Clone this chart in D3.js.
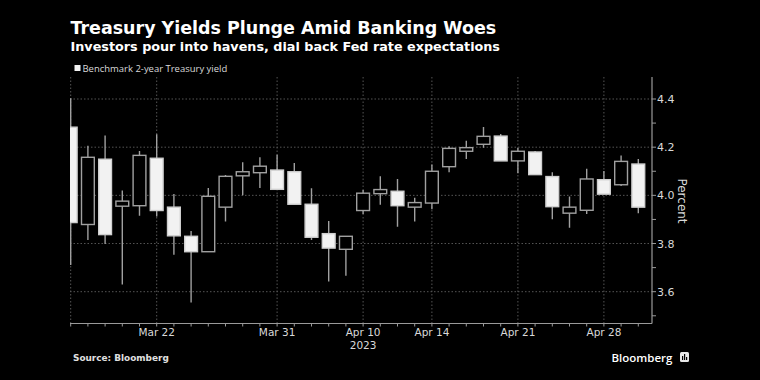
<!DOCTYPE html>
<html>
<head>
<meta charset="utf-8">
<script src="https://cdn.jsdelivr.net/npm/d3@7/dist/d3.min.js"></script>
<style>
  html, body { margin: 0; padding: 0; background: #000; }
  svg { display: block; }
</style>
</head>
<body>
<svg id="chart" width="760" height="380"></svg>
<script>
// ---- Data ----
const dates = ["Mar 15","Mar 16","Mar 17","Mar 20","Mar 21","Mar 22","Mar 23","Mar 24","Mar 27","Mar 28",
  "Mar 29","Mar 30","Mar 31","Apr 3","Apr 4","Apr 5","Apr 6","Apr 10","Apr 11","Apr 12",
  "Apr 13","Apr 14","Apr 17","Apr 18","Apr 19","Apr 20","Apr 21","Apr 24","Apr 25","Apr 26",
  "Apr 27","Apr 28","May 1","May 2"];
const open  = [4.283,3.879,4.150,3.955,3.957,4.154,3.951,3.830,3.766,3.951,
  4.081,4.094,4.105,4.098,3.963,3.841,3.776,3.937,4.007,4.017,
  3.951,3.968,4.119,4.183,4.212,4.246,4.143,4.180,4.078,3.926,
  3.938,4.065,4.044,4.130];
const high  = [4.403,4.206,4.248,4.020,4.184,4.254,4.006,3.852,4.031,4.085,
  4.137,4.158,4.169,4.134,4.029,3.894,3.830,4.022,4.079,4.068,
  3.990,4.128,4.204,4.227,4.284,4.255,4.197,4.184,4.096,3.995,
  4.110,4.101,4.165,4.151];
const low   = [3.711,3.815,3.798,3.630,3.915,3.912,3.753,3.555,3.766,3.891,
  4.000,4.031,4.025,3.963,3.815,3.642,3.666,3.923,3.961,3.870,
  3.891,3.942,4.096,4.151,4.198,4.143,4.092,4.086,3.901,3.866,
  3.923,4.005,4.039,3.926];
const close = [3.887,4.158,3.837,3.976,4.166,3.937,3.832,3.766,3.996,4.079,
  4.098,4.121,4.025,3.963,3.826,3.781,3.830,4.009,4.024,3.957,
  3.970,4.100,4.195,4.198,4.245,4.143,4.183,4.086,3.953,3.951,
  4.068,4.005,4.141,3.951];
const yTicks = [3.6, 3.8, 4.0, 4.2, 4.4];
const yMinorTicks = [3.5, 3.7, 3.9, 4.1, 4.3];
const xTickLabels = ["Mar 22","Mar 31","Apr 10","Apr 14","Apr 21","Apr 28"];
const yearLabel = {date: "Apr 10", text: "2023"};

// ---- Layout ----
const W = 760, H = 380;
const plot = {left: 70, right: 652, top: 77, bottom: 323.5};
const svg = d3.select("#chart");
svg.append("rect").attr("width", W).attr("height", H).attr("fill", "#000");

const idx = dates.map((d, i) => i);
const x = d3.scaleLinear().domain([0, dates.length - 1]).range([70.7, 638.3]);
const y = d3.scaleLinear().domain([3.6, 4.4]).range([291.7, 99]);
const bodyW = 12.8;

const gridColor = "#555";
const axisColor = "#9a9a9a";
const textColor = "#d9d9d9";

svg.append("clipPath").attr("id", "plotclip").append("rect")
  .attr("x", plot.left).attr("y", plot.top)
  .attr("width", plot.right - plot.left).attr("height", plot.bottom - plot.top);

// Horizontal gridlines
const grid = svg.append("g");
grid.selectAll("line.h").data(yTicks).join("line")
  .attr("x1", plot.left).attr("x2", plot.right)
  .attr("y1", d => y(d)).attr("y2", d => y(d))
  .attr("stroke", gridColor).attr("stroke-width", 1).attr("stroke-dasharray", "1.5,2");

// Vertical gridlines
const vGridIdx = [0].concat(xTickLabels.map(l => dates.indexOf(l)));
grid.selectAll("line.v").data(vGridIdx).join("line")
  .attr("x1", d => x(d)).attr("x2", d => x(d))
  .attr("y1", plot.top).attr("y2", plot.bottom)
  .attr("stroke", gridColor).attr("stroke-width", 1).attr("stroke-dasharray", "1.5,2");

// Candles
const cg = svg.append("g").attr("clip-path", "url(#plotclip)");
const candles = cg.selectAll("g.c").data(idx).join("g");
candles.append("line")
  .attr("x1", i => x(i)).attr("x2", i => x(i))
  .attr("y1", i => y(high[i])).attr("y2", i => y(low[i]))
  .attr("stroke", "#a0a0a0").attr("stroke-width", 1.4);
candles.append("rect")
  .attr("x", i => x(i) - bodyW / 2)
  .attr("width", bodyW)
  .attr("y", i => y(Math.max(open[i], close[i])))
  .attr("height", i => Math.max(1.5, Math.abs(y(open[i]) - y(close[i]))))
  .attr("fill", i => close[i] < open[i] ? "#f2f2f2" : "#000")
  .attr("stroke", i => close[i] < open[i] ? "#cfcfcf" : "#a0a0a0")
  .attr("stroke-width", 1.4);

// X axis
const xAxisG = svg.append("g").attr("transform", `translate(0,${plot.bottom})`);
xAxisG.append("line").attr("x1", plot.left).attr("x2", plot.right)
  .attr("y1", 0).attr("y2", 0).attr("stroke", axisColor).attr("stroke-width", 1.2);
xAxisG.selectAll("line.t").data(idx).join("line")
  .attr("x1", i => x(i)).attr("x2", i => x(i)).attr("y1", 0).attr("y2", 3)
  .attr("stroke", axisColor).attr("stroke-width", 1);
xAxisG.selectAll("text.l").data(xTickLabels).join("text")
  .attr("x", d => x(dates.indexOf(d))).attr("y", 12)
  .attr("text-anchor", "middle")
  .attr("fill", textColor)
  .attr("font-family", "DejaVu Sans, sans-serif").attr("font-size", 10.5)
  .text(d => d);
xAxisG.append("text")
  .attr("x", x(dates.indexOf(yearLabel.date))).attr("y", 25)
  .attr("text-anchor", "middle").attr("fill", textColor)
  .attr("font-family", "DejaVu Sans, sans-serif").attr("font-size", 10.5)
  .text(yearLabel.text);

// Y axis (right)
const yAxisG = svg.append("g").attr("transform", `translate(${plot.right},0)`);
yAxisG.append("line").attr("x1", 0).attr("x2", 0).attr("y1", plot.top).attr("y2", plot.bottom)
  .attr("stroke", axisColor).attr("stroke-width", 1.2);
yAxisG.selectAll("line.t").data(yTicks.concat(yMinorTicks)).join("line")
  .attr("x1", 0).attr("x2", 4).attr("y1", d => y(d)).attr("y2", d => y(d))
  .attr("stroke", axisColor).attr("stroke-width", 1);
yAxisG.selectAll("text.l").data(yTicks).join("text")
  .attr("x", 5).attr("y", d => y(d) + 4)
  .attr("fill", textColor)
  .attr("font-family", "DejaVu Sans, sans-serif").attr("font-size", 11)
  .text(d => d.toFixed(1));
svg.append("text")
  .attr("transform", `translate(678,201) rotate(90)`)
  .attr("text-anchor", "middle").attr("fill", textColor)
  .attr("font-family", "DejaVu Sans, sans-serif").attr("font-size", 12)
  .text("Percent");

// Title / subtitle
function fit(sel, target) {
  const w = sel.node().getComputedTextLength();
  const fs = parseFloat(sel.attr("font-size"));
  sel.attr("font-size", fs * target / w);
}
const title = svg.append("text").attr("x", 70.5).attr("y", 34)
  .attr("fill", "#fff").attr("font-family", "DejaVu Sans, sans-serif")
  .attr("font-weight", "bold").attr("font-size", 18)
  .text("Treasury Yields Plunge Amid Banking Woes");
fit(title, 426);
const sub = svg.append("text").attr("x", 70.5).attr("y", 51)
  .attr("fill", "#fff").attr("font-family", "DejaVu Sans, sans-serif")
  .attr("font-weight", "bold").attr("font-size", 13)
  .text("Investors pour into havens, dial back Fed rate expectations");
fit(sub, 430);

// Legend
svg.append("rect").attr("x", 74.5).attr("y", 65).attr("width", 6).attr("height", 6).attr("fill", "#f2f2f2");
const leg = svg.append("text").attr("x", 82.5).attr("y", 71.5)
  .attr("fill", textColor).attr("font-family", "Open Sans, sans-serif").attr("font-size", 10)
  .text("Benchmark 2-year Treasury yield");
fit(leg, 145);

// Source
const src = svg.append("text").attr("x", 73).attr("y", 361)
  .attr("fill", "#e0e0e0").attr("font-family", "DejaVu Sans, sans-serif")
  .attr("font-weight", "bold").attr("font-size", 9.5)
  .text("Source: Bloomberg");
fit(src, 96);

// Bloomberg logo
const logo = svg.append("text").attr("x", 611.5).attr("y", 362)
  .attr("fill", "#fff").attr("font-family", "Open Sans, sans-serif")
  .attr("font-weight", 600).attr("font-size", 13)
  .text("Bloomberg");
fit(logo, 61);
const lg = svg.append("g").attr("transform", "translate(680,352)");
lg.append("rect").attr("x", 0).attr("y", 0).attr("width", 9).attr("height", 10).attr("rx", 1.5).attr("fill", "#e8e8e8");
[[2, 4, 4], [4, 2, 6], [6, 5, 3]].forEach(([bx, by, bh]) => {
  lg.append("rect").attr("x", bx).attr("y", by).attr("width", 1.2).attr("height", bh).attr("fill", "#000");
});
</script>
</body>
</html>
